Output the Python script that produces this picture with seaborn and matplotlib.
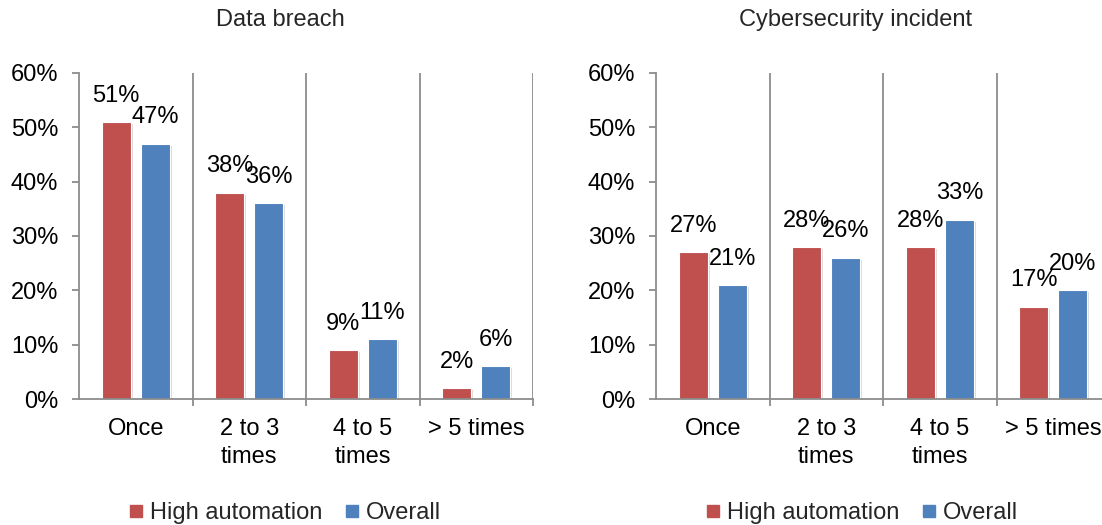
import matplotlib
matplotlib.use("Agg")
import matplotlib.pyplot as plt
import matplotlib.patheffects as pe
from matplotlib.lines import Line2D
from matplotlib.ticker import FixedLocator, PercentFormatter
import seaborn as sns
import pandas as pd

# Frequency categories and survey shares (%)
categories = ["Once", "2 to 3\ntimes", "4 to 5\ntimes", "> 5 times"]
series_names = ["High automation", "Overall"]
breach_high = [51, 38, 9, 2]
breach_overall = [47, 36, 11, 6]
incident_high = [27, 28, 28, 17]
incident_overall = [21, 26, 33, 20]
panel_titles = ["Data breach", "Cybersecurity incident"]

colors = ["#C0504D", "#4F81BD"]
grid_color = "#8C8C8C"

sns.set_theme(style="white")
plt.rcParams["font.family"] = ["Liberation Sans", "DejaVu Sans"]
FS = 17


def long_frame(high, overall):
    rows = []
    for cat, h, o in zip(categories, high, overall):
        rows.append({"category": cat, "group": series_names[0], "value": h})
        rows.append({"category": cat, "group": series_names[1], "value": o})
    return pd.DataFrame(rows)


fig = plt.figure(figsize=(11.02, 5.25), dpi=100)
ax_w = 0.412
ax_positions = [[0.0717, 0.24, ax_w, 0.621], [0.5953, 0.24, ax_w, 0.621]]
title_x = [280 / 1102, 856 / 1102]
legend_x = [285 / 1102, 862 / 1102]

panels = [(breach_high, breach_overall), (incident_high, incident_overall)]

for i, (high, overall) in enumerate(panels):
    ax = fig.add_axes(ax_positions[i])
    df = long_frame(high, overall)
    sns.barplot(data=df, x="category", y="value", hue="group",
                hue_order=series_names, palette=colors, order=categories,
                width=0.69, gap=0.26, legend=False, ax=ax,
                saturation=1, linewidth=0.8, edgecolor="white")
    for patch in ax.patches:
        patch.set_path_effects([
            pe.SimplePatchShadow(offset=(1.5, -1.5), shadow_rgbFace="#BBBBBB", alpha=0.5),
            pe.Normal()])
    for cont in ax.containers:
        ax.bar_label(cont, labels=[f"{v:.0f}%" for v in cont.datavalues],
                     padding=11, fontsize=FS, color="black")

    ax.set_xlim(-0.5, 3.5)
    ax.set_ylim(0, 60)
    ax.set_xlabel("")
    ax.set_ylabel("")
    ax.yaxis.set_major_locator(FixedLocator([0, 10, 20, 30, 40, 50, 60]))
    ax.yaxis.set_major_formatter(PercentFormatter(decimals=0))

    # category separators
    ax.xaxis.set_minor_locator(FixedLocator([0.5, 1.5, 2.5, 3.5]))
    ax.grid(False)
    ax.grid(True, which="minor", axis="x", color=grid_color, linewidth=1.3)
    ax.tick_params(axis="x", which="major", length=0, pad=13.5, labelsize=FS,
                   labelcolor="black")
    ax.tick_params(axis="x", which="minor", length=5, width=1.3, color=grid_color,
                   direction="out", bottom=True)
    ax.tick_params(axis="y", which="major", length=5, width=1.3, color=grid_color,
                   direction="out", left=True, pad=10, labelsize=FS, labelcolor="black")
    for lbl in ax.get_xticklabels():
        lbl.set_linespacing(1.35)
    for side in ["top", "right"]:
        ax.spines[side].set_visible(False)
    for side in ["left", "bottom"]:
        ax.spines[side].set_color(grid_color)
        ax.spines[side].set_linewidth(1.3)

    fig.text(title_x[i], 1 - 20 / 525, panel_titles[i], ha="center", va="center",
             fontsize=FS)

    handles = [Line2D([], [], marker="s", linestyle="none", markersize=8,
                      markerfacecolor=c, markeredgecolor=c) for c in colors]
    fig.legend(handles, series_names, loc="center", ncol=2,
               bbox_to_anchor=(legend_x[i], 1 - 513 / 525), frameon=False,
               fontsize=FS, handlelength=0.6, handletextpad=0.3,
               columnspacing=0.95, borderaxespad=0)

fig.savefig("out.png", dpi=100)
